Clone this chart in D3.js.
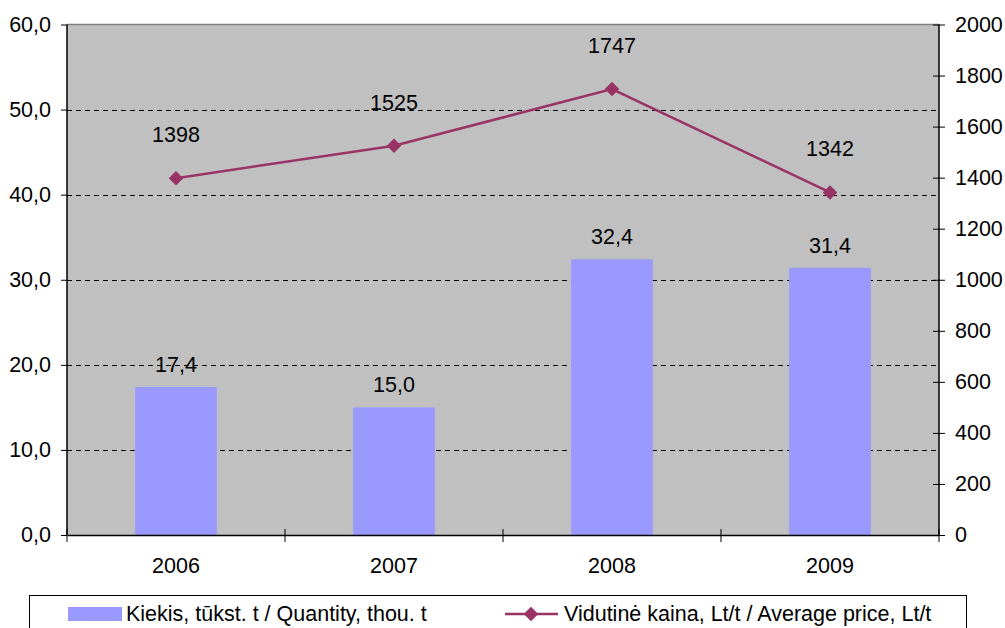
<!doctype html>
<html>
<head>
  <meta charset="utf-8">
  <title>Kiekis ir vidutinė kaina</title>
  <style>
  body{ margin:0; background:#fff; font-family: "Liberation Sans", Arial, sans-serif; }
  svg text{ font-size:21.5px; fill:#000; font-family: "Liberation Sans", Arial, sans-serif; }
  </style>
</head>
<body>
  <svg></svg>
  <script src="https://d3js.org/d3.v7.min.js"></script>
  <script>
  var years = ['2006', '2007', '2008', '2009'];
  var quantity = [17.4, 15.0, 32.4, 31.4];
  var price = [1398, 1525, 1747, 1342];
  var leftTicks = [0, 10, 20, 30, 40, 50, 60];
  var rightTicks = [0, 200, 400, 600, 800, 1000, 1200, 1400, 1600, 1800, 2000];
  var legendLabels = ['Kiekis, tūkst. t / Quantity, thou. t', 'Vidutinė kaina, Lt/t / Average price, Lt/t'];

  var width = 1005, height = 628;
  var m = { left: 67, right: 939, top: 24.5, bottom: 535 };
  var barColor = '#9999ff', lineColor = '#993366';

  var svg = d3.select('svg').attr('width', width).attr('height', height);

  var x = d3.scaleBand().domain(years).range([m.left, m.right]);
  var yL = d3.scaleLinear().domain([0, 60]).range([m.bottom, m.top]);
  var yR = d3.scaleLinear().domain([0, 2000]).range([m.bottom, m.top]);
  var fmt = function(v){ return d3.format('.1f')(v).replace('.', ','); };

  // plot background
  svg.append('rect')
    .attr('x', m.left).attr('y', m.top)
    .attr('width', m.right - m.left).attr('height', m.bottom - m.top)
    .attr('fill', '#c0c0c0');

  // gridlines
  svg.append('g').selectAll('line').data(leftTicks.slice(1, -1)).enter().append('line')
    .attr('x1', m.left).attr('x2', m.right)
    .attr('y1', function(d){ return Math.round(yL(d)) + 0.5; })
    .attr('y2', function(d){ return Math.round(yL(d)) + 0.5; })
    .attr('stroke', '#000').attr('stroke-dasharray', '5,4');

  // top border
  svg.append('line').attr('x1', m.left).attr('x2', m.right)
    .attr('y1', m.top).attr('y2', m.top).attr('stroke', '#808080').attr('stroke-width', 1.5);

  // bars
  var bw = x.bandwidth() * 0.375;
  svg.append('g').selectAll('rect').data(quantity).enter().append('rect')
    .attr('x', function(d, i){ return x(years[i]) + x.bandwidth() / 2 - bw / 2; })
    .attr('y', function(d){ return yL(d); })
    .attr('width', bw)
    .attr('height', function(d){ return m.bottom - yL(d); })
    .attr('fill', barColor);

  svg.append('g').selectAll('text').data(quantity).enter().append('text')
    .attr('x', function(d, i){ return x(years[i]) + x.bandwidth() / 2; })
    .attr('y', function(d){ return yL(d) - 15; })
    .attr('text-anchor', 'middle')
    .text(fmt);

  // axes
  var axL = svg.append('g').attr('transform', 'translate(' + m.left + ',0)')
    .call(d3.axisLeft(yL).tickValues(leftTicks).tickFormat(fmt).tickSize(6).tickPadding(10));
  var axR = svg.append('g').attr('transform', 'translate(' + m.right + ',0)')
    .call(d3.axisRight(yR).tickValues(rightTicks).tickFormat(d3.format('d')).tickSize(6).tickPadding(10));
  axR.selectAll('.tick line').attr('x1', -6);
  var axB = svg.append('g').attr('transform', 'translate(0,' + m.bottom + ')')
    .call(d3.axisBottom(x).tickSize(0).tickPadding(22));
  axB.selectAll('.tick text').attr('dy', null).attr('y', 38);
  svg.append('g').selectAll('line').data(d3.range(years.length + 1)).enter().append('line')
    .attr('x1', function(i){ return m.left + i * x.step(); })
    .attr('x2', function(i){ return m.left + i * x.step(); })
    .attr('y1', m.bottom - 6).attr('y2', m.bottom + 7)
    .attr('stroke', '#000');
  [axL, axR, axB].forEach(function(a){
    a.attr('font-size', null).attr('font-family', null);
    a.select('.domain').attr('stroke', '#000').attr('stroke-width', 1.5);
    a.selectAll('.tick line').attr('stroke', '#000');
  });
  axL.select('.domain').attr('d', 'M0,' + m.top + 'V' + m.bottom);
  axR.select('.domain').attr('d', 'M0,' + m.top + 'V' + m.bottom);

  // price line
  var px = function(d, i){ return x(years[i]) + x.bandwidth() / 2; };
  svg.append('path').datum(price)
    .attr('d', d3.line().x(px).y(function(d){ return yR(d); }))
    .attr('fill', 'none').attr('stroke', lineColor).attr('stroke-width', 2.5);
  var diamond = d3.symbol().type(d3.symbolDiamond2).size(135);
  svg.append('g').selectAll('path').data(price).enter().append('path')
    .attr('d', diamond)
    .attr('transform', function(d, i){ return 'translate(' + px(d, i) + ',' + yR(d) + ')'; })
    .attr('fill', lineColor);
  svg.append('g').selectAll('text').data(price).enter().append('text')
    .attr('x', px)
    .attr('y', function(d){ return yR(d) - 36; })
    .attr('text-anchor', 'middle')
    .text(function(d){ return d; });

  // legend
  var lg = svg.append('g');
  lg.append('rect').attr('x', 29.5).attr('y', 595.5).attr('width', 937).attr('height', 40)
    .attr('fill', '#fff').attr('stroke', '#000');
  lg.append('rect').attr('x', 68).attr('y', 607).attr('width', 54).attr('height', 14).attr('fill', barColor);
  lg.append('text').attr('x', 126).attr('y', 621).text(legendLabels[0]);
  lg.append('line').attr('x1', 505).attr('x2', 558).attr('y1', 614).attr('y2', 614)
    .attr('stroke', lineColor).attr('stroke-width', 2.5);
  lg.append('path').attr('d', diamond).attr('transform', 'translate(531,614)').attr('fill', lineColor);
  lg.append('text').attr('x', 564).attr('y', 621).text(legendLabels[1]);
  </script>
</body>
</html>
